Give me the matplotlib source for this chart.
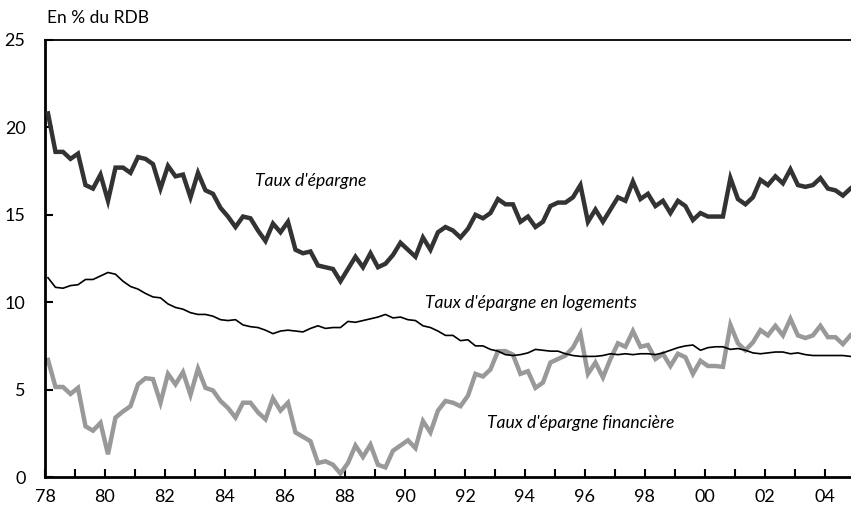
import matplotlib
matplotlib.use("Agg")
import matplotlib.pyplot as plt
import numpy as np

plt.rcParams['font.family'] = ['Lato', 'DejaVu Sans']

# trimestres 1978T1 - 2004T4
debut = 1978
epargne = [20.8, 18.6, 18.6, 18.2, 18.5, 16.7, 16.5, 17.3, 15.8, 17.7, 17.7, 17.4,
           18.3, 18.2, 17.9, 16.5, 17.8, 17.2, 17.3, 16.0, 17.4, 16.4, 16.2, 15.4,
           14.9, 14.3, 14.9, 14.8, 14.1, 13.5, 14.5, 14.0, 14.6, 13.0, 12.8, 12.9,
           12.1, 12.0, 11.9, 11.2, 11.9, 12.6, 12.0, 12.8, 12.0, 12.2, 12.7, 13.4,
           13.0, 12.6, 13.7, 13.0, 14.0, 14.3, 14.1, 13.7, 14.2, 15.0, 14.8, 15.1,
           15.9, 15.6, 15.6, 14.6, 14.9, 14.3, 14.6, 15.5, 15.7, 15.7, 16.0, 16.7,
           14.6, 15.3, 14.6, 15.3, 16.0, 15.8, 16.9, 15.9, 16.2, 15.5, 15.8, 15.1,
           15.8, 15.5, 14.7, 15.1, 14.9, 14.9, 14.9, 17.1, 15.9, 15.6, 16.0, 17.0,
           16.7, 17.2, 16.8, 17.6, 16.7, 16.6, 16.7, 17.1, 16.5, 16.4, 16.1, 16.5]
logements = [11.4, 10.85, 10.8, 10.95, 11.0, 11.3, 11.3, 11.5, 11.7, 11.6, 11.2, 10.9,
             10.75, 10.5, 10.3, 10.25, 9.9, 9.7, 9.6, 9.4, 9.3, 9.3, 9.2, 9.0,
             8.95, 9.0, 8.7, 8.6, 8.55, 8.4, 8.2, 8.35, 8.4, 8.35, 8.3, 8.5,
             8.65, 8.5, 8.55, 8.55, 8.9, 8.85, 8.95, 9.05, 9.15, 9.3, 9.1, 9.15,
             9.0, 8.95, 8.65, 8.55, 8.35, 8.1, 8.1, 7.8, 7.85, 7.5, 7.5, 7.3,
             7.2, 7.0, 6.95, 7.0, 7.1, 7.3, 7.25, 7.2, 7.2, 7.05, 6.95, 6.9,
             6.9, 6.9, 6.95, 7.05, 7.0, 7.05, 7.0, 7.05, 7.05, 7.0, 7.1, 7.25,
             7.4, 7.5, 7.55, 7.25, 7.4, 7.45, 7.45, 7.3, 7.35, 7.25, 7.1, 7.05,
             7.1, 7.15, 7.15, 7.05, 7.1, 7.0, 6.95, 6.95, 6.95, 6.95, 6.95, 6.9]
financiere = [6.7, 5.15, 5.15, 4.75, 5.1, 2.9, 2.65, 3.1, 1.3, 3.4, 3.75, 4.05,
              5.3, 5.65, 5.6, 4.25, 5.9, 5.3, 6.0, 4.7, 6.2, 5.1, 4.95, 4.35,
              3.95, 3.4, 4.25, 4.25, 3.7, 3.3, 4.5, 3.8, 4.25, 2.55, 2.3, 2.05,
              0.8, 0.9, 0.7, 0.2, 0.8, 1.8, 1.15, 1.85, 0.7, 0.55, 1.5, 1.8,
              2.1, 1.65, 3.2, 2.55, 3.8, 4.35, 4.25, 4.05, 4.65, 5.9, 5.75, 6.15,
              7.2, 7.2, 7.0, 5.9, 6.05, 5.1, 5.4, 6.55, 6.75, 6.95, 7.4, 8.2,
              5.9, 6.55, 5.7, 6.75, 7.65, 7.45, 8.35, 7.45, 7.55, 6.75, 7.05, 6.35,
              7.05, 6.85, 5.9, 6.65, 6.35, 6.35, 6.3, 8.7, 7.65, 7.25, 7.7, 8.4,
              8.1, 8.65, 8.1, 9.05, 8.1, 7.95, 8.1, 8.65, 8.0, 8.0, 7.6, 8.1]

annees = np.arange(1978, 2005)
etiquettes = [str(a)[2:] if a % 2 == 0 else '' for a in annees]

x = debut + 0.1 + np.arange(len(epargne)) / 4

fig = plt.figure(figsize=(8.51, 5.12), dpi=100)
ax = fig.add_axes([45 / 851, 35 / 512, 806 / 851, 437 / 512])

ax.plot(x, financiere, color='#999999', lw=3.2, solid_joinstyle='miter', zorder=2)
ax.plot(x, logements, color='black', lw=1.2, zorder=3)
ax.plot(x, epargne, color='#333333', lw=3.2, solid_joinstyle='miter', zorder=4)

ax.set_xlim(1978, 2004.87)
ax.set_ylim(0, 25)
ax.set_xticks(annees)
ax.set_xticklabels(etiquettes)
ax.set_yticks([0, 5, 10, 15, 20, 25])
ax.tick_params(axis='both', direction='in', length=6, width=1.5, labelsize=13)
ax.tick_params(axis='x', pad=9)
ax.tick_params(axis='y', pad=14)

ax.spines['left'].set_linewidth(2)
ax.spines['bottom'].set_linewidth(2)
ax.spines['top'].set_linewidth(1.3)
ax.spines['right'].set_visible(False)

txt = dict(fontsize=12.6, style='italic', va='center')
ax.text(1985.0, 16.95, "Taux d'épargne", **txt)
ax.text(1990.67, 9.97, "Taux d'épargne en logements", **txt)
ax.text(1992.73, 3.1, "Taux d'épargne financière", **txt)

fig.text(47 / 851, 1 - 18 / 512, "En % du RDB", fontsize=12.5, va='center')

fig.savefig('out.png', dpi=100)
